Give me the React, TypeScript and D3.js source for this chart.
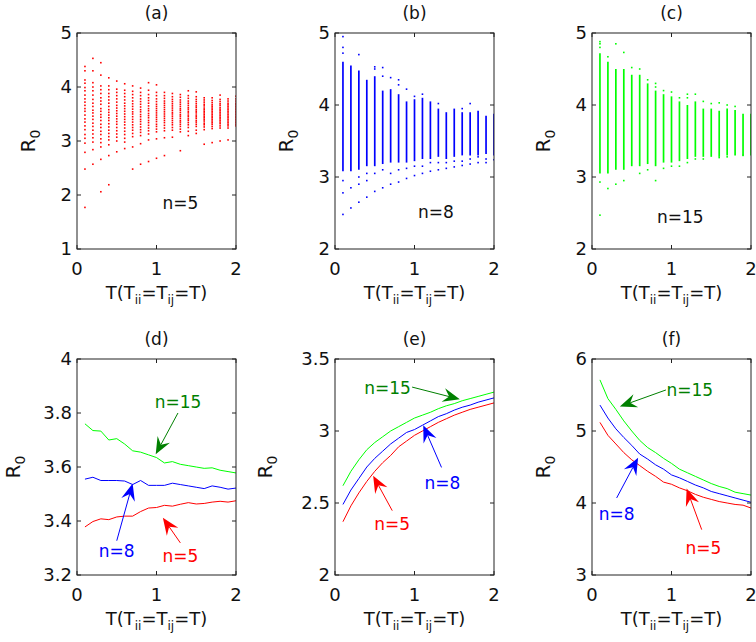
import React from 'react';
import * as d3 from 'd3';

// T values shared by every panel
const T_VALUES = [0.1, 0.2, 0.3, 0.4, 0.5, 0.6, 0.7, 0.8, 0.9, 1.0, 1.1, 1.2, 1.3, 1.4, 1.5, 1.6, 1.7, 1.8, 1.9, 2.0];

// (a) n=5 scatter, one list of R0 values per T
const A_COLUMNS: number[][] = [
  [4.38, 4.30, 4.13, 4.07, 3.99, 3.93, 3.85, 3.78, 3.72, 3.66, 3.60, 3.55, 3.48, 3.41, 3.35, 3.28, 3.21, 3.12, 3.05, 2.96, 2.79, 2.48, 1.77],
  [4.53, 4.30, 4.08, 4.00, 3.93, 3.85, 3.77, 3.70, 3.64, 3.57, 3.52, 3.46, 3.40, 3.33, 3.27, 3.20, 3.13, 3.06, 2.98, 2.84, 2.57],
  [4.45, 4.22, 4.02, 3.95, 3.88, 3.80, 3.74, 3.68, 3.60, 3.55, 3.49, 3.44, 3.38, 3.31, 3.25, 3.18, 3.12, 3.04, 2.97, 2.89, 2.66, 2.06],
  [4.17, 4.02, 3.95, 3.88, 3.82, 3.76, 3.70, 3.64, 3.58, 3.53, 3.48, 3.43, 3.38, 3.32, 3.26, 3.20, 3.14, 3.08, 3.02, 2.93, 2.73, 2.19],
  [4.11, 3.96, 3.90, 3.84, 3.78, 3.72, 3.66, 3.61, 3.56, 3.51, 3.46, 3.41, 3.36, 3.31, 3.25, 3.19, 3.13, 3.07, 3.00, 2.80],
  [4.06, 3.94, 3.88, 3.82, 3.76, 3.70, 3.65, 3.60, 3.55, 3.50, 3.45, 3.40, 3.35, 3.30, 3.24, 3.18, 3.12, 3.05, 2.98, 2.86],
  [4.02, 3.92, 3.86, 3.80, 3.74, 3.69, 3.64, 3.59, 3.54, 3.50, 3.45, 3.40, 3.35, 3.30, 3.25, 3.20, 3.14, 3.08, 2.89, 2.48],
  [3.98, 3.90, 3.84, 3.78, 3.73, 3.68, 3.63, 3.58, 3.54, 3.49, 3.45, 3.40, 3.36, 3.31, 3.26, 3.21, 3.16, 3.10, 2.95, 2.57],
  [4.08, 3.94, 3.86, 3.80, 3.75, 3.70, 3.65, 3.60, 3.56, 3.51, 3.47, 3.43, 3.38, 3.34, 3.29, 3.24, 3.19, 3.13, 3.02, 2.62],
  [4.04, 3.90, 3.84, 3.78, 3.73, 3.68, 3.64, 3.60, 3.56, 3.52, 3.48, 3.44, 3.40, 3.36, 3.31, 3.27, 3.22, 3.17, 3.04, 2.68],
  [3.90, 3.84, 3.79, 3.74, 3.70, 3.66, 3.62, 3.58, 3.54, 3.50, 3.46, 3.42, 3.38, 3.34, 3.29, 3.24, 3.19, 3.06, 2.73],
  [3.88, 3.82, 3.77, 3.73, 3.69, 3.65, 3.61, 3.57, 3.53, 3.50, 3.46, 3.42, 3.38, 3.34, 3.30, 3.25, 3.20, 3.07],
  [3.86, 3.81, 3.76, 3.72, 3.68, 3.64, 3.60, 3.57, 3.53, 3.49, 3.46, 3.42, 3.38, 3.35, 3.31, 3.27, 3.22, 3.17, 2.82],
  [3.93, 3.84, 3.79, 3.74, 3.70, 3.66, 3.62, 3.59, 3.55, 3.52, 3.48, 3.45, 3.41, 3.38, 3.34, 3.30, 3.25, 3.18, 3.10],
  [3.91, 3.82, 3.77, 3.73, 3.69, 3.65, 3.62, 3.58, 3.55, 3.52, 3.48, 3.45, 3.42, 3.38, 3.35, 3.31, 3.27, 3.20, 3.14],
  [3.80, 3.76, 3.72, 3.68, 3.65, 3.61, 3.58, 3.55, 3.52, 3.49, 3.46, 3.43, 3.40, 3.37, 3.33, 3.30, 3.26, 3.21, 2.94],
  [3.80, 3.75, 3.71, 3.67, 3.64, 3.61, 3.58, 3.55, 3.52, 3.49, 3.46, 3.43, 3.40, 3.37, 3.34, 3.31, 3.27, 3.23, 2.97],
  [3.85, 3.77, 3.73, 3.69, 3.66, 3.62, 3.59, 3.56, 3.53, 3.50, 3.47, 3.44, 3.41, 3.38, 3.35, 3.32, 3.28, 3.24, 3.00],
  [3.78, 3.74, 3.70, 3.67, 3.64, 3.61, 3.58, 3.55, 3.52, 3.49, 3.46, 3.43, 3.40, 3.37, 3.34, 3.31, 3.28, 3.24, 3.02],
  [3.83, 3.78, 3.74, 3.70, 3.67, 3.64, 3.61, 3.58, 3.55, 3.52, 3.49, 3.46, 3.43, 3.40, 3.37, 3.34, 3.31, 3.28],
];

// (b) n=8: dense band per T plus the loose points around it
const B_LO = [3.08, 3.08, 3.10, 3.15, 3.15, 3.18, 3.20, 3.20, 3.20, 3.22, 3.25, 3.25, 3.28, 3.25, 3.28, 3.30, 3.30, 3.30, 3.32, 3.30];
const B_HI = [4.60, 4.55, 4.48, 4.35, 4.40, 4.20, 4.22, 4.15, 4.05, 4.08, 4.10, 4.05, 3.95, 3.90, 3.95, 3.90, 3.90, 3.92, 3.85, 3.88];
const B_OUT: number[][] = [
  [4.95, 4.80, 4.72, 2.95, 2.78, 2.48],
  [2.85, 2.57],
  [4.70, 3.00, 2.90, 2.65],
  [3.05, 2.95, 2.72],
  [4.53, 4.50, 3.05, 2.80],
  [4.52, 4.40, 3.10, 2.85],
  [4.38, 3.05, 2.90],
  [4.35, 4.28, 3.10, 2.93],
  [4.22, 3.12, 2.98],
  [4.12, 3.15, 3.02],
  [4.15, 3.15, 3.05],
  [3.20, 3.08],
  [4.02, 3.20, 3.10],
  [3.20, 3.12],
  [3.22, 3.14],
  [3.95, 3.22, 3.16],
  [4.02, 3.25, 3.18],
  [3.28, 3.20],
  [3.25, 3.20],
  [3.24],
];

// (c) n=15
const C_LO = [3.05, 3.05, 3.10, 3.10, 3.15, 3.15, 3.18, 3.15, 3.20, 3.20, 3.22, 3.25, 3.28, 3.28, 3.28, 3.28, 3.30, 3.30, 3.30, 3.30];
const C_HI = [4.72, 4.60, 4.50, 4.50, 4.42, 4.42, 4.30, 4.20, 4.15, 4.12, 4.05, 4.00, 4.05, 3.95, 3.95, 3.92, 3.95, 3.93, 3.88, 3.88];
const C_OUT: number[][] = [
  [4.88, 4.85, 4.80, 2.93, 2.47],
  [4.67, 2.84],
  [4.85, 2.90],
  [4.73, 2.95],
  [4.52],
  [4.50, 3.05],
  [4.35, 3.10],
  [4.30, 4.25, 2.95],
  [4.20, 3.12],
  [4.18, 3.15],
  [4.10, 3.15],
  [4.15, 4.10, 3.20],
  [4.15, 3.25],
  [4.05, 3.25],
  [4.02],
  [4.03, 3.27],
  [4.00, 3.28],
  [3.98],
  [3.30],
  [],
];

// (d)-(f) mean R0 curves
const D_N5 = [3.378, 3.398, 3.408, 3.405, 3.415, 3.418, 3.418, 3.435, 3.448, 3.450, 3.458, 3.455, 3.462, 3.468, 3.463, 3.465, 3.470, 3.473, 3.470, 3.475];
const D_N8 = [3.555, 3.562, 3.550, 3.550, 3.550, 3.548, 3.535, 3.550, 3.532, 3.532, 3.532, 3.540, 3.535, 3.530, 3.525, 3.520, 3.530, 3.525, 3.518, 3.522];
const D_N15 = [3.760, 3.735, 3.733, 3.700, 3.705, 3.685, 3.660, 3.655, 3.645, 3.635, 3.615, 3.620, 3.610, 3.605, 3.600, 3.595, 3.597, 3.588, 3.583, 3.578];

const E_N5 = [2.37, 2.48, 2.57, 2.65, 2.72, 2.78, 2.83, 2.89, 2.93, 2.97, 3.00, 3.03, 3.06, 3.085, 3.11, 3.13, 3.15, 3.165, 3.18, 3.195];
const E_N8 = [2.49, 2.59, 2.67, 2.75, 2.81, 2.86, 2.91, 2.95, 2.99, 3.01, 3.04, 3.07, 3.10, 3.12, 3.145, 3.165, 3.18, 3.20, 3.215, 3.23];
const E_N15 = [2.62, 2.72, 2.80, 2.87, 2.92, 2.96, 3.00, 3.03, 3.06, 3.09, 3.11, 3.13, 3.155, 3.175, 3.19, 3.21, 3.225, 3.24, 3.255, 3.27];

const F_N5 = [5.12, 4.94, 4.82, 4.70, 4.60, 4.52, 4.44, 4.37, 4.29, 4.26, 4.21, 4.17, 4.12, 4.08, 4.05, 4.02, 4.00, 3.98, 3.97, 3.93];
const F_N8 = [5.36, 5.18, 5.03, 4.91, 4.80, 4.68, 4.61, 4.53, 4.47, 4.39, 4.35, 4.30, 4.25, 4.21, 4.16, 4.13, 4.10, 4.07, 4.04, 4.01];
const F_N15 = [5.71, 5.45, 5.30, 5.14, 5.00, 4.87, 4.77, 4.70, 4.62, 4.55, 4.47, 4.42, 4.37, 4.32, 4.27, 4.23, 4.20, 4.15, 4.13, 4.11];

const RED = '#ff0000';
const BLUE = '#0000ff';
const GREEN = '#00ff00';
const DARK_GREEN = '#008000';
const FONT = '"DejaVu Sans", "Liberation Sans", Arial, sans-serif';

type Note = { text: string; color: string; at: [number, number]; tail?: [number, number]; tip?: [number, number] };

interface PanelDef {
  title: string;
  left: number;
  top: number;
  yDomain: [number, number];
  yTicks: number[];
  yLabelOffset: number;
  notes: Note[];
}

const W = 159;
const H = 216;

function Arrow({ x1, y1, x2, y2, color }: { x1: number; y1: number; x2: number; y2: number; color: string }) {
  const ang = Math.atan2(y2 - y1, x2 - x1);
  const len = 17, half = 7, notch = 11;
  const ux = Math.cos(ang), uy = Math.sin(ang);
  const px = -uy, py = ux;
  const bx = x2 - ux * len, by = y2 - uy * len;
  const nx = x2 - ux * notch, ny = y2 - uy * notch;
  const pts = [
    [x2, y2],
    [bx + px * half, by + py * half],
    [nx, ny],
    [bx - px * half, by - py * half],
  ];
  return (
    <g>
      <line x1={x1} y1={y1} x2={nx} y2={ny} stroke={color} strokeWidth={1} />
      <polygon points={pts.map(p => p.join(',')).join(' ')} fill={color} />
    </g>
  );
}

function Panel({ def, children }: { def: PanelDef; children: (x: d3.ScaleLinear<number, number>, y: d3.ScaleLinear<number, number>) => React.ReactNode }) {
  const x = d3.scaleLinear().domain([0, 2]).range([def.left, def.left + W]);
  const y = d3.scaleLinear().domain(def.yDomain).range([def.top + H, def.top]);
  const tick = 4;
  const cx = def.left + W / 2;
  const cy = def.top + H / 2;
  return (
    <g>
      <g clipPath={`url(#clip-${def.title})`}>{children(x, y)}</g>
      <rect x={def.left} y={def.top} width={W} height={H} fill="none" stroke="#222" strokeWidth={1} />
      {[0, 1, 2].map(t => (
        <g key={t}>
          <line x1={x(t)} x2={x(t)} y1={def.top + H} y2={def.top + H - tick} stroke="#222" />
          <line x1={x(t)} x2={x(t)} y1={def.top} y2={def.top + tick} stroke="#222" />
          <text x={x(t)} y={def.top + H + 26} textAnchor="middle" fontSize={18} fill="#111">{t}</text>
        </g>
      ))}
      {def.yTicks.map(t => (
        <g key={t}>
          <line x1={def.left} x2={def.left + tick} y1={y(t)} y2={y(t)} stroke="#222" />
          <line x1={def.left + W} x2={def.left + W - tick} y1={y(t)} y2={y(t)} stroke="#222" />
          <text x={def.left - 5} y={y(t)} dy="0.36em" textAnchor="end" fontSize={18} fill="#111">{t}</text>
        </g>
      ))}
      <text x={cx} y={def.top - 14} textAnchor="middle" fontSize={17} fill="#111">({def.title})</text>
      <text x={cx} y={def.top + H + 50} textAnchor="middle" fontSize={18} fill="#111">
        T(T<tspan fontSize={12} dy={5}>ii</tspan><tspan dy={-5}>=T</tspan><tspan fontSize={12} dy={5}>ij</tspan><tspan dy={-5}>=T)</tspan>
      </text>
      <text transform={`translate(${def.left - def.yLabelOffset},${cy}) rotate(-90)`} textAnchor="middle" fontSize={20} fill="#111">
        R<tspan fontSize={14} dy={5}>0</tspan>
      </text>
      {def.notes.map((n, i) => (
        <g key={i}>
          <text x={x(n.at[0])} y={y(n.at[1])} dy="0.36em" textAnchor="middle" fontSize={17} fill={n.color}>{n.text}</text>
          {n.tail && n.tip && (
            <Arrow x1={x(n.tail[0])} y1={y(n.tail[1])} x2={x(n.tip[0])} y2={y(n.tip[1])} color={n.color} />
          )}
        </g>
      ))}
    </g>
  );
}

const TOP = 33;
const BOTTOM = 359;
const LEFTS = [77, 335, 592];

const PANELS: PanelDef[] = [
  { title: 'a', left: LEFTS[0], top: TOP, yDomain: [1, 5], yTicks: [1, 2, 3, 4, 5], yLabelOffset: 42, notes: [{ text: 'n=5', color: '#111', at: [1.3, 1.85] }] },
  { title: 'b', left: LEFTS[1], top: TOP, yDomain: [2, 5], yTicks: [2, 3, 4, 5], yLabelOffset: 42, notes: [{ text: 'n=8', color: '#111', at: [1.27, 2.51] }] },
  { title: 'c', left: LEFTS[2], top: TOP, yDomain: [2, 5], yTicks: [2, 3, 4, 5], yLabelOffset: 42, notes: [{ text: 'n=15', color: '#111', at: [1.11, 2.44] }] },
  {
    title: 'd', left: LEFTS[0], top: BOTTOM, yDomain: [3.2, 4], yTicks: [3.2, 3.4, 3.6, 3.8, 4], yLabelOffset: 57,
    notes: [
      { text: 'n=15', color: DARK_GREEN, at: [1.27, 3.84], tail: [1.27, 3.80], tip: [0.99, 3.647] },
      { text: 'n=8', color: BLUE, at: [0.5, 3.289], tail: [0.5, 3.327], tip: [0.7, 3.539] },
      { text: 'n=5', color: RED, at: [1.3, 3.271], tail: [1.3, 3.319], tip: [1.08, 3.412] },
    ],
  },
  {
    title: 'e', left: LEFTS[1], top: BOTTOM, yDomain: [2, 3.5], yTicks: [2, 2.5, 3, 3.5], yLabelOffset: 63,
    notes: [
      { text: 'n=15', color: DARK_GREEN, at: [0.66, 3.30], tail: [0.97, 3.305], tip: [1.57, 3.22] },
      { text: 'n=8', color: BLUE, at: [1.35, 2.64], tail: [1.34, 2.747], tip: [1.11, 3.04] },
      { text: 'n=5', color: RED, at: [0.72, 2.356], tail: [0.72, 2.447], tip: [0.48, 2.69] },
    ],
  },
  {
    title: 'f', left: LEFTS[2], top: BOTTOM, yDomain: [3, 6], yTicks: [3, 4, 5, 6], yLabelOffset: 42,
    notes: [
      { text: 'n=15', color: DARK_GREEN, at: [1.23, 5.57], tail: [0.93, 5.57], tip: [0.35, 5.34] },
      { text: 'n=8', color: BLUE, at: [0.31, 3.85], tail: [0.31, 4.07], tip: [0.58, 4.63] },
      { text: 'n=5', color: RED, at: [1.40, 3.38], tail: [1.38, 3.63], tip: [1.19, 4.20] },
    ],
  },
];

function dots(x: d3.ScaleLinear<number, number>, y: d3.ScaleLinear<number, number>, cols: number[][], color: string, size: number) {
  return cols.flatMap((col, i) =>
    col.map((v, j) => (
      <rect key={`${i}-${j}`} x={x(T_VALUES[i]) - size / 2} y={y(v) - size / 2} width={size} height={size} fill={color} />
    ))
  );
}

function bands(x: d3.ScaleLinear<number, number>, y: d3.ScaleLinear<number, number>, lo: number[], hi: number[], color: string) {
  return lo.map((l, i) => (
    <line key={`b${i}`} x1={x(T_VALUES[i])} x2={x(T_VALUES[i])} y1={y(l)} y2={y(hi[i])} stroke={color} strokeWidth={1.7} />
  ));
}

function curves(x: d3.ScaleLinear<number, number>, y: d3.ScaleLinear<number, number>, series: [number[], string][]) {
  const line = d3.line<number>().x((_, i) => x(T_VALUES[i])).y(d => y(d));
  return series.map(([s, c], i) => <path key={i} d={line(s) || ''} fill="none" stroke={c} strokeWidth={1} />);
}

export default function App() {
  const render: ((x: any, y: any) => React.ReactNode)[] = [
    (x, y) => dots(x, y, A_COLUMNS, RED, 1.6),
    (x, y) => [...bands(x, y, B_LO, B_HI, BLUE), ...dots(x, y, B_OUT, BLUE, 1.6)],
    (x, y) => [...bands(x, y, C_LO, C_HI, GREEN), ...dots(x, y, C_OUT, GREEN, 1.6)],
    (x, y) => curves(x, y, [[D_N5, RED], [D_N8, BLUE], [D_N15, GREEN]]),
    (x, y) => curves(x, y, [[E_N5, RED], [E_N8, BLUE], [E_N15, GREEN]]),
    (x, y) => curves(x, y, [[F_N5, RED], [F_N8, BLUE], [F_N15, GREEN]]),
  ];
  return (
    <svg width={756} height={642} style={{ position: 'absolute', left: 0, top: 0, background: '#fff' }} fontFamily={FONT}>
      <defs>
        {PANELS.map(p => (
          <clipPath key={p.title} id={`clip-${p.title}`}>
            <rect x={p.left} y={p.top} width={W} height={H} />
          </clipPath>
        ))}
      </defs>
      {PANELS.map((p, i) => (
        <Panel key={p.title} def={p}>{render[i]}</Panel>
      ))}
    </svg>
  );
}
